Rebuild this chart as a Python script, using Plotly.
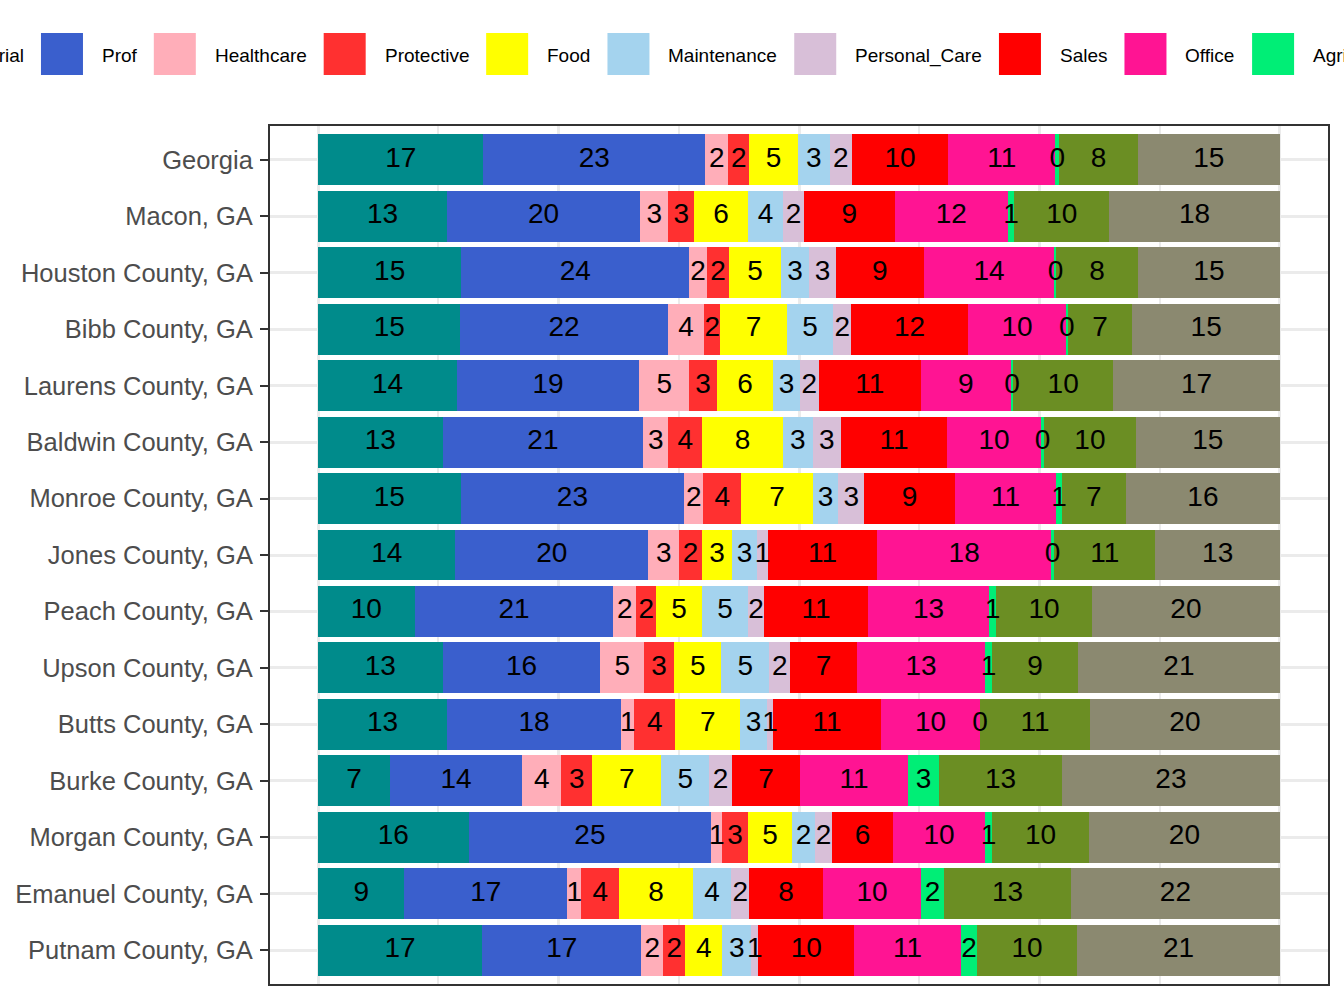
import numpy as np
import plotly.graph_objects as go

# Occupation shares (%) by place, rows in display order (top to bottom)
LOCATIONS = ["Georgia", "Macon, GA", "Houston County, GA", "Bibb County, GA",
             "Laurens County, GA", "Baldwin County, GA", "Monroe County, GA",
             "Jones County, GA", "Peach County, GA", "Upson County, GA",
             "Butts County, GA", "Burke County, GA", "Morgan County, GA",
             "Emanuel County, GA", "Putnam County, GA"]

CATEGORIES = ["Managerial", "Prof", "Healthcare", "Protective", "Food", "Maintenance",
              "Personal_Care", "Sales", "Office", "Agriculture", "Construction", "Production"]

MANAGERIAL = [17.18, 13.40, 14.89, 14.80, 14.44, 12.95, 14.82, 14.27, 10.04, 12.95, 13.40, 7.45, 15.65, 8.97, 17.06]
PROF = [23.07, 20.09, 23.69, 21.55, 18.95, 20.85, 23.24, 20.05, 20.65, 16.39, 18.12, 13.78, 25.22, 16.94, 16.55]
HEALTHCARE = [2.39, 2.91, 1.87, 3.80, 5.19, 2.60, 1.98, 3.22, 2.39, 4.55, 1.35, 4.05, 1.14, 1.45, 2.28]
PROTECTIVE = [2.18, 2.70, 2.29, 1.65, 2.91, 3.53, 3.95, 2.39, 2.07, 3.13, 4.26, 3.22, 2.70, 3.95, 2.29]
FOOD = [5.08, 5.61, 5.40, 6.95, 5.82, 8.38, 7.44, 3.12, 4.78, 4.89, 6.75, 7.17, 4.57, 7.65, 3.84]
MAINTENANCE = [3.30, 3.63, 2.89, 4.82, 2.79, 3.12, 2.67, 2.57, 4.78, 4.99, 2.81, 4.99, 2.39, 3.99, 3.02]
PERSONAL_CARE = [2.30, 2.18, 2.81, 1.85, 1.96, 2.94, 2.66, 1.17, 1.67, 2.18, 0.62, 2.39, 1.77, 1.87, 0.72]
SALES = [10.03, 9.44, 9.11, 12.14, 10.59, 11.02, 9.46, 11.33, 10.80, 6.96, 11.22, 7.06, 6.34, 7.68, 9.98]
OFFICE = [11.11, 11.74, 13.62, 10.22, 9.37, 9.77, 10.53, 18.11, 12.57, 13.30, 10.29, 11.23, 9.56, 10.19, 11.11]
AGRICULTURE = [0.41, 0.70, 0.19, 0.15, 0.26, 0.31, 0.55, 0.28, 0.73, 0.73, 0.03, 3.22, 0.73, 2.39, 1.67]
CONSTRUCTION = [8.18, 9.85, 8.48, 6.74, 10.37, 9.55, 6.69, 10.55, 9.98, 8.93, 11.40, 12.78, 10.07, 13.19, 10.39]
PRODUCTION = [14.77, 17.75, 14.76, 15.33, 17.35, 14.98, 16.01, 12.94, 19.54, 21.00, 19.75, 22.66, 19.86, 21.73, 21.09]

SERIES = [MANAGERIAL, PROF, HEALTHCARE, PROTECTIVE, FOOD, MAINTENANCE,
          PERSONAL_CARE, SALES, OFFICE, AGRICULTURE, CONSTRUCTION, PRODUCTION]

COLORS = ["#008B8B", "#3A5FCD", "#FFAEB9", "#FF3030", "#FFFF00", "#A4D3EE",
          "#D8BFD8", "#FF0000", "#FF1493", "#00EE76", "#6B8E23", "#8B8970"]

FONT = "Liberation Sans, Arial, sans-serif"
W, H = 1344, 1008
ML, MR, MT, MB = 270, 16, 126, 24
PW, PH = W - ML - MR, H - MT - MB

# rough Arial advance widths (em/1000) for legend layout
ARIAL_W = {"A": 667, "C": 722, "F": 611, "G": 778, "H": 722, "M": 833, "O": 778,
           "P": 667, "S": 667, "a": 556, "c": 500, "d": 556, "e": 556, "f": 278,
           "g": 556, "h": 556, "i": 222, "l": 222, "n": 556, "o": 556, "r": 333,
           "s": 500, "t": 278, "u": 556, "v": 500, "_": 556}


def text_width(s, size):
    return sum(ARIAL_W.get(c, 556) for c in s) * size / 1000.0


def paper_x(px):
    return (px - ML) / PW


def paper_y(py):
    return (H - MB - py) / PH


fig = go.Figure()

values = np.array(SERIES)
left = np.cumsum(values, axis=0) - values
for name, vals, color in zip(CATEGORIES, SERIES, COLORS):
    fig.add_bar(y=LOCATIONS, x=vals, name=name, orientation="h",
                marker=dict(color=color, line=dict(width=0)), showlegend=False)

# value labels centred in each segment
mid = left + values / 2
fig.add_scatter(x=mid.flatten(), y=LOCATIONS * len(CATEGORIES), mode="text",
                text=[f"{v:.0f}" for v in values.flatten()],
                textfont=dict(family=FONT, size=28, color="black"),
                showlegend=False, hoverinfo="skip", cliponaxis=False)

# top legend, centred and running off both sides like the original
LEG_SIZE = 19
SWATCH = 42
GAP = 18
x = -131
shapes, annotations = [], []
for name, color in zip(CATEGORIES, COLORS):
    shapes.append(dict(type="rect", xref="paper", yref="paper",
                       x0=paper_x(x), x1=paper_x(x + SWATCH),
                       y0=paper_y(75), y1=paper_y(33),
                       fillcolor=color, line=dict(width=0)))
    tx = x + SWATCH + GAP
    annotations.append(dict(text=name, xref="paper", yref="paper",
                            x=paper_x(tx), y=paper_y(56), xanchor="left", yanchor="middle",
                            showarrow=False, borderpad=0,
                            font=dict(family=FONT, size=LEG_SIZE, color="black")))
    x = tx + text_width(name, LEG_SIZE) + GAP

fig.update_layout(
    width=W, height=H,
    margin=dict(l=ML, r=MR, t=MT, b=MB),
    barmode="stack", bargap=0.1,
    plot_bgcolor="white", paper_bgcolor="white",
    font=dict(family=FONT),
    shapes=shapes, annotations=annotations,
    xaxis=dict(range=[-5, 105], tickvals=[0, 25, 50, 75, 100], showticklabels=False,
               ticks="", showgrid=True, gridcolor="#EBEBEB", gridwidth=3,
               minor=dict(tickvals=[12.5, 37.5, 62.5, 87.5], showgrid=True,
                          gridcolor="#EBEBEB", gridwidth=1.5, ticks=""),
               zeroline=False, showline=True, mirror=True,
               linecolor="#333333", linewidth=2),
    yaxis=dict(categoryorder="array", categoryarray=LOCATIONS,
               range=[len(LOCATIONS) - 0.4, -0.6],
               ticks="outside", ticklen=8, tickwidth=2, tickcolor="#333333",
               ticklabelstandoff=2,
               tickfont=dict(family=FONT, size=25.5, color="#4D4D4D"),
               showgrid=True, gridcolor="#EBEBEB", gridwidth=3,
               zeroline=False, showline=True, mirror=True,
               linecolor="#333333", linewidth=2),
)

fig.write_html("out.html", config={"displayModeBar": False},
               post_script="document.body.style.margin='0';")
